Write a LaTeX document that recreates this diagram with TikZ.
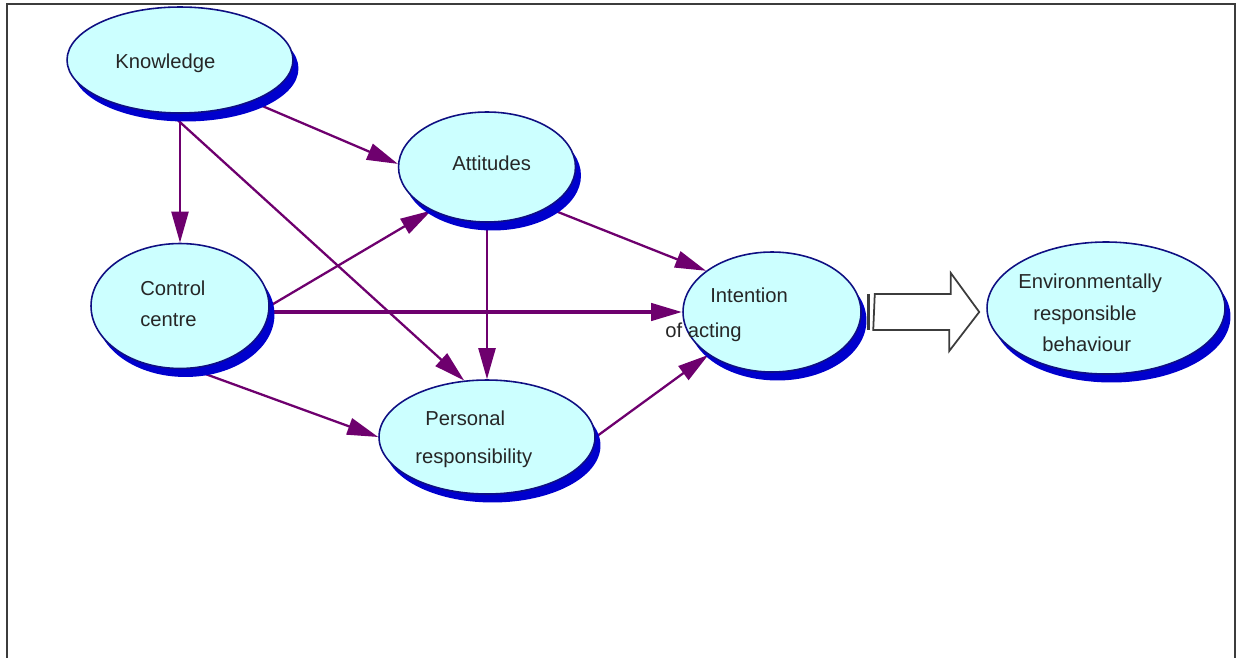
\documentclass[tikz,border=0pt]{standalone}
\usepackage{fontspec}
\setmainfont{Liberation Sans}
\usepackage{tikz}
\usetikzlibrary{arrows.meta,shadows,backgrounds,shapes.geometric}

\definecolor{ovalfill}{RGB}{204,255,255}
\definecolor{ovalline}{RGB}{15,15,130}
\definecolor{shadowblue}{RGB}{0,0,205}
\definecolor{linkpurple}{RGB}{110,0,110}
\definecolor{framegray}{RGB}{60,60,60}

\begin{document}
\begin{tikzpicture}[x=0.02cm, y=-0.02cm,
    oval/.style={ellipse, draw=ovalline, line width=0.9pt, fill=ovalfill, inner sep=0pt,
        copy shadow={shadow xshift=0.11cm, shadow yshift=-0.17cm, fill=shadowblue, draw=none}},
    txt/.style={anchor=west, inner sep=0pt, align=left, text=black!85, font=\fontsize{11.5pt}{#1}\selectfont},
    txt/.default=14pt,
    link/.style={draw=linkpurple, line width=1.3pt, -{Triangle[length=0.62cm, width=0.34cm]}},
    hollow/.style={draw=framegray, line width=1pt, fill=white}]
                \useasboundingbox (0,0) rectangle (1243,658);
                
                % Frame, open at the bottom
                \draw[framegray, line width=1.1pt] (7,658) -- (7,4) -- (1235,4) -- (1235,658);
                
                % The ovals
                \node[oval, minimum width=4.52cm, minimum height=2.12cm] (kn) at (180,60) {};
                \node[oval, minimum width=3.54cm, minimum height=2.2cm] (at) at (487,167) {};
                \node[oval, minimum width=3.56cm, minimum height=2.5cm] (cc) at (180,306) {};
                \node[oval, minimum width=4.32cm, minimum height=2.28cm] (pr) at (487,437) {};
                \node[oval, minimum width=3.56cm, minimum height=2.4cm] (in) at (772,312) {};
                \node[oval, minimum width=4.76cm, minimum height=2.64cm] (env) at (1106,308) {};
                
                % Texts of the ovals
                \node[txt] (knT) at (115,63) {Knowledge};
                \node[txt] (atT) at (452,163) {Attitudes};
                \node[txt=0.62cm] (ccT) at (140,304) {Control\\centre};
                \node[txt=0.76cm] (prT) at (415,439) {\hspace*{0.2cm}Personal\\responsibility};
                \node[txt=0.7cm] (inT) at (665,315) {\hspace*{0.9cm}Intention\\of acting};
                \node[txt=0.63cm] (envT) at (1018,313) {Environmentally\\\hspace*{0.3cm}responsible\\\hspace*{0.48cm}behaviour};
                
                % Links, behind the ovals
                \begin{pgfonlayer}{background}
                \draw[link] (kn.south) -- (cc.north);
                \draw[link] (kn.-30) -- (at.178);
                \draw[link] (kn.-100) -- (pr.112);
                \draw[link] (cc.east) -- (at.218);
                \draw[link, line width=2.4pt] (cc.east |- in.west) -- (in.west);
                \draw[link] (cc.-80) -- (pr.west);
                \draw[link] (at.south) -- (pr.north);
                \draw[link] (at.-34) -- (in.148);
                \draw[link] (pr.east) -- (in.214);
                \end{pgfonlayer}
                
                % Hollow arrow to the behaviour
                \coordinate (hs) at ([xshift=0.26cm]in.east);
                \coordinate (ht) at ([xshift=-0.14cm]env.west);
                \draw[hollow] (hs) ++(0,-18) -- ++(76,0) -- ++(0,-21) -- (ht |- hs)
                    -- ++(-30,39) -- ++(0,-21) -- ++(-76,0) -- cycle;
                \draw[framegray, line width=1.6pt] ([xshift=-0.12cm]hs) ++(0,-18) -- ++(0,36);
            \end{tikzpicture}
\end{document}
